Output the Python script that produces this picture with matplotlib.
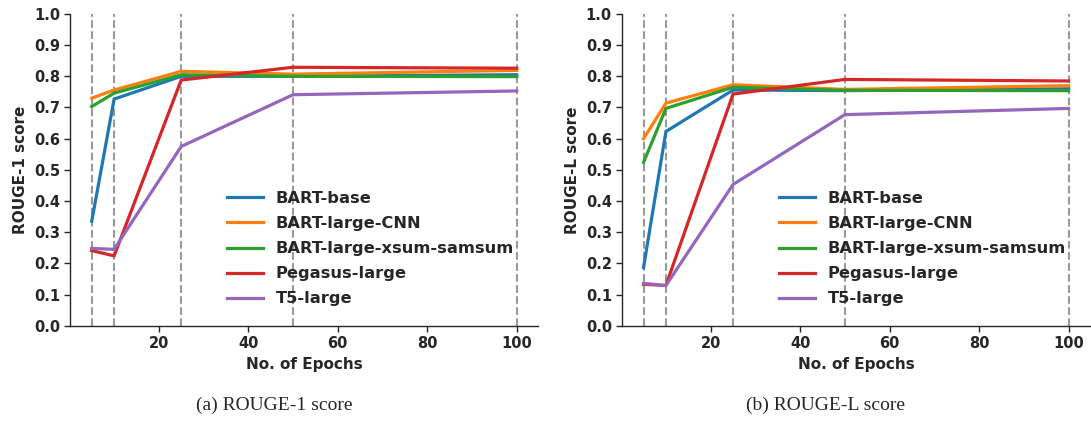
import matplotlib
matplotlib.use("Agg")
import matplotlib.pyplot as plt

epochs = [5, 10, 25, 50, 100]
models = ["BART-base", "BART-large-CNN", "BART-large-xsum-samsum", "Pegasus-large", "T5-large"]
colors = ["#1f77b4", "#ff7f0e", "#2ca02c", "#d62728", "#9467bd"]

rouge1 = {
    "BART-base": [0.335, 0.727, 0.800, 0.800, 0.805],
    "BART-large-CNN": [0.730, 0.756, 0.816, 0.807, 0.819],
    "BART-large-xsum-samsum": [0.703, 0.746, 0.805, 0.800, 0.799],
    "Pegasus-large": [0.241, 0.224, 0.788, 0.829, 0.826],
    "T5-large": [0.248, 0.245, 0.575, 0.741, 0.753],
}
rougeL = {
    "BART-base": [0.187, 0.623, 0.756, 0.754, 0.760],
    "BART-large-CNN": [0.600, 0.714, 0.773, 0.758, 0.770],
    "BART-large-xsum-samsum": [0.524, 0.697, 0.765, 0.755, 0.754],
    "Pegasus-large": [0.133, 0.129, 0.743, 0.790, 0.785],
    "T5-large": [0.136, 0.129, 0.453, 0.677, 0.697],
}

panels = [
    (rouge1, "ROUGE-1 score", "(a) ROUGE-1 score"),
    (rougeL, "ROUGE-L score", "(b) ROUGE-L score"),
]

plt.rcParams["font.family"] = "DejaVu Sans"
plt.rcParams["font.weight"] = "bold"
text_col = "#262626"

fig = plt.figure(figsize=(10.91, 4.23), dpi=100)
lefts = [0.0646, 0.5704]
caption_x = [274 / 1091, 826 / 1091]

for i, (data, ylab, cap) in enumerate(panels):
    ax = fig.add_axes([lefts[i], 0.230, 0.4285, 0.737])
    for e in epochs:
        ax.axvline(e, color="#999999", linestyle="--", linewidth=1.5, zorder=1)
    for m, c in zip(models, colors):
        ax.plot(epochs, data[m], color=c, linewidth=2.3, label=m, zorder=2)
    ax.set_ylim(0, 1.0)
    ax.set_yticks([k / 10 for k in range(11)])
    ax.set_xticks([20, 40, 60, 80, 100])
    ax.set_xlabel("No. of Epochs", fontsize=11, fontweight="bold", color=text_col)
    ax.set_ylabel(ylab, fontsize=11, fontweight="bold", color=text_col)
    ax.tick_params(labelsize=10.5, colors=text_col, length=4, width=1)
    for lbl in ax.get_xticklabels() + ax.get_yticklabels():
        lbl.set_fontweight("bold")
    ax.spines["top"].set_visible(False)
    ax.spines["right"].set_visible(False)
    for s in ["left", "bottom"]:
        ax.spines[s].set_color(text_col)
        ax.spines[s].set_linewidth(1.0)
    leg = ax.legend(loc="lower right", frameon=False, handlelength=2.2,
                    prop={"size": 11.7, "weight": "bold"}, labelspacing=0.62,
                    bbox_to_anchor=(0.98, 0.015))
    for t in leg.get_texts():
        t.set_color(text_col)
    fig.text(caption_x[i], 0.031, cap, ha="center", va="baseline",
             fontsize=14, family="Liberation Serif", fontweight="normal", color=text_col)

fig.savefig("out.png", dpi=100)
